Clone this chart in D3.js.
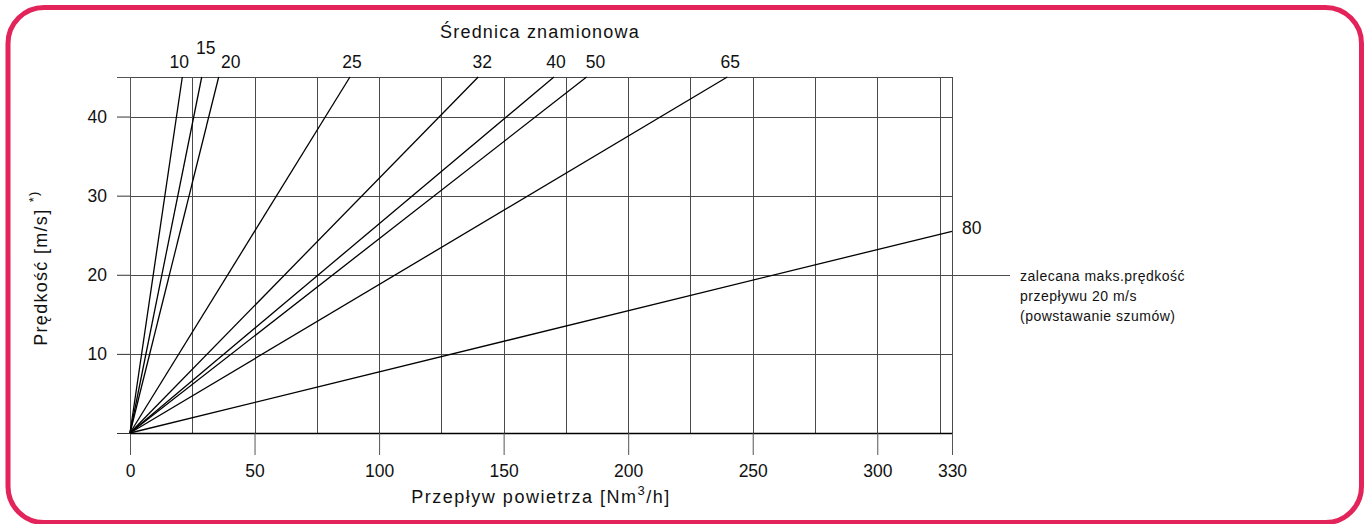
<!DOCTYPE html>
<html>
<head>
<meta charset="utf-8">
<script src="https://cdn.jsdelivr.net/npm/d3@7"></script>
<style>
  body { margin: 0; background: #fff; }
  svg { display: block; font-family: "Liberation Sans", Arial, sans-serif; }
</style>
</head>
<body>
<svg id="chart" width="1365" height="524"></svg>
<script>
// nominal diameters (DN) and where each line leaves the chart
const diameters = [10, 15, 20, 25, 32, 40, 50, 65, 80];
const endFlow = [21, 28.8, 35.6, 88.3, 139.8, 170.2, 183.3, 239.8, 330];
const endSpeed = [45, 45, 45, 45, 45, 45, 45, 45, 25.5];

const xTicks = [0, 50, 100, 150, 200, 250, 300, 330];
const xGrid = [25, 50, 75, 100, 125, 150, 175, 200, 225, 250, 275, 300, 325, 330];
const yTicks = [10, 20, 30, 40];
const recommended = 20;
const noteLines = ["zalecana maks.prędkość", "przepływu 20 m/s", "(powstawanie szumów)"];

const svg = d3.select("#chart");

// rounded frame
svg.append("rect")
    .attr("x", 8).attr("y", 7.5)
    .attr("width", 1353.5).attr("height", 515)
    .attr("rx", 36).attr("ry", 36)
    .attr("fill", "none")
    .attr("stroke", "#e3245b")
    .attr("stroke-width", 5);

const x = d3.scaleLinear().domain([0, 330]).range([130, 952]);
const y = d3.scaleLinear().domain([0, 45]).range([433, 77]);

const grid = svg.append("g").attr("stroke", "#4a4a4a").attr("stroke-width", 1).attr("shape-rendering", "crispEdges");

// vertical grid
grid.selectAll("line.v")
    .data(xGrid)
    .join("line")
    .attr("class", "v")
    .attr("x1", d => Math.round(x(d)) + 0.5).attr("x2", d => Math.round(x(d)) + 0.5)
    .attr("y1", y(45)).attr("y2", y(0));

// horizontal grid (top edge at 45)
grid.selectAll("line.h")
    .data(yTicks.concat([45]))
    .join("line")
    .attr("class", "h")
    .attr("x1", x(0)).attr("x2", d => d === recommended ? 1010 : x(330))
    .attr("y1", d => Math.round(y(d)) + 0.5).attr("y2", d => Math.round(y(d)) + 0.5);

// y axis
const yAxis = d3.axisLeft(y).tickValues([0].concat(yTicks)).tickSize(13).tickPadding(10)
    .tickFormat(d => d === 0 ? "" : d);
const gy = svg.append("g").attr("transform", `translate(${x(0)},0)`).call(yAxis);
gy.select(".domain").attr("stroke", "#555");
gy.selectAll(".tick line").attr("stroke", "#333");
gy.selectAll(".tick text").attr("font-size", 17.5).attr("fill", "#111").attr("font-family", "Liberation Sans, Arial, sans-serif");

// x axis
const xAxis = d3.axisBottom(x).tickValues(xTicks).tickSize(22).tickPadding(10).tickSizeOuter(0);
const gx = svg.append("g").attr("transform", `translate(0,${y(0)})`).call(xAxis);
gx.select(".domain").attr("stroke", "#000").attr("stroke-width", 1.3);
gx.selectAll(".tick line").attr("stroke", "#555");
gx.selectAll(".tick text").attr("font-size", 17.5).attr("fill", "#111").attr("font-family", "Liberation Sans, Arial, sans-serif");

// diameter lines
const lines = diameters.map((dn, i) => ({dn, q: endFlow[i], v: endSpeed[i]}));
svg.append("g")
    .selectAll("line")
    .data(lines)
    .join("line")
    .attr("x1", x(0)).attr("y1", y(0))
    .attr("x2", d => x(d.q)).attr("y2", d => y(d.v))
    .attr("stroke", "#000")
    .attr("stroke-width", 1.3);

// DN labels
const nudge = {10: [-3, 0], 15: [4, -14], 20: [12, 0], 25: [2, 0], 32: [4, 0], 40: [2, 0], 50: [9, 0], 65: [3, 0]};
svg.append("g")
    .selectAll("text")
    .data(lines.filter(d => d.v === 45))
    .join("text")
    .attr("x", d => x(d.q) + nudge[d.dn][0])
    .attr("y", d => 68 + nudge[d.dn][1])
    .attr("text-anchor", "middle")
    .attr("font-size", 17.5)
    .attr("fill", "#111")
    .text(d => d.dn);

const last = lines[lines.length - 1];
svg.append("text")
    .attr("x", x(last.q) + 10).attr("y", y(last.v) + 3)
    .attr("font-size", 17.5).attr("fill", "#111")
    .text(last.dn);

// titles
svg.append("text")
    .attr("x", 540).attr("y", 38)
    .attr("text-anchor", "middle")
    .attr("font-size", 18).attr("letter-spacing", 1.2).attr("fill", "#111")
    .text("Średnica znamionowa");

const xt = svg.append("text")
    .attr("x", 541).attr("y", 503)
    .attr("text-anchor", "middle")
    .attr("font-size", 18).attr("letter-spacing", 1.5).attr("fill", "#111");
xt.append("tspan").text("Przepływ powietrza [Nm");
xt.append("tspan").attr("dy", -8).attr("font-size", 13).text("3");
xt.append("tspan").attr("dy", 8).text("/h]");

const yt = svg.append("text")
    .attr("transform", "translate(47,268) rotate(-90)")
    .attr("text-anchor", "middle")
    .attr("font-size", 18).attr("letter-spacing", 1.3).attr("fill", "#111");
yt.append("tspan").text("Prędkość [m/s] ");
yt.append("tspan").attr("dy", -9).attr("font-size", 13).text("*)");

// recommended speed note
svg.append("g")
    .selectAll("text")
    .data(noteLines)
    .join("text")
    .attr("x", 1020)
    .attr("y", (d, i) => y(recommended) + 6 + i * 20)
    .attr("font-size", 14).attr("letter-spacing", 0.5).attr("fill", "#111")
    .text(d => d);
</script>
</body>
</html>
